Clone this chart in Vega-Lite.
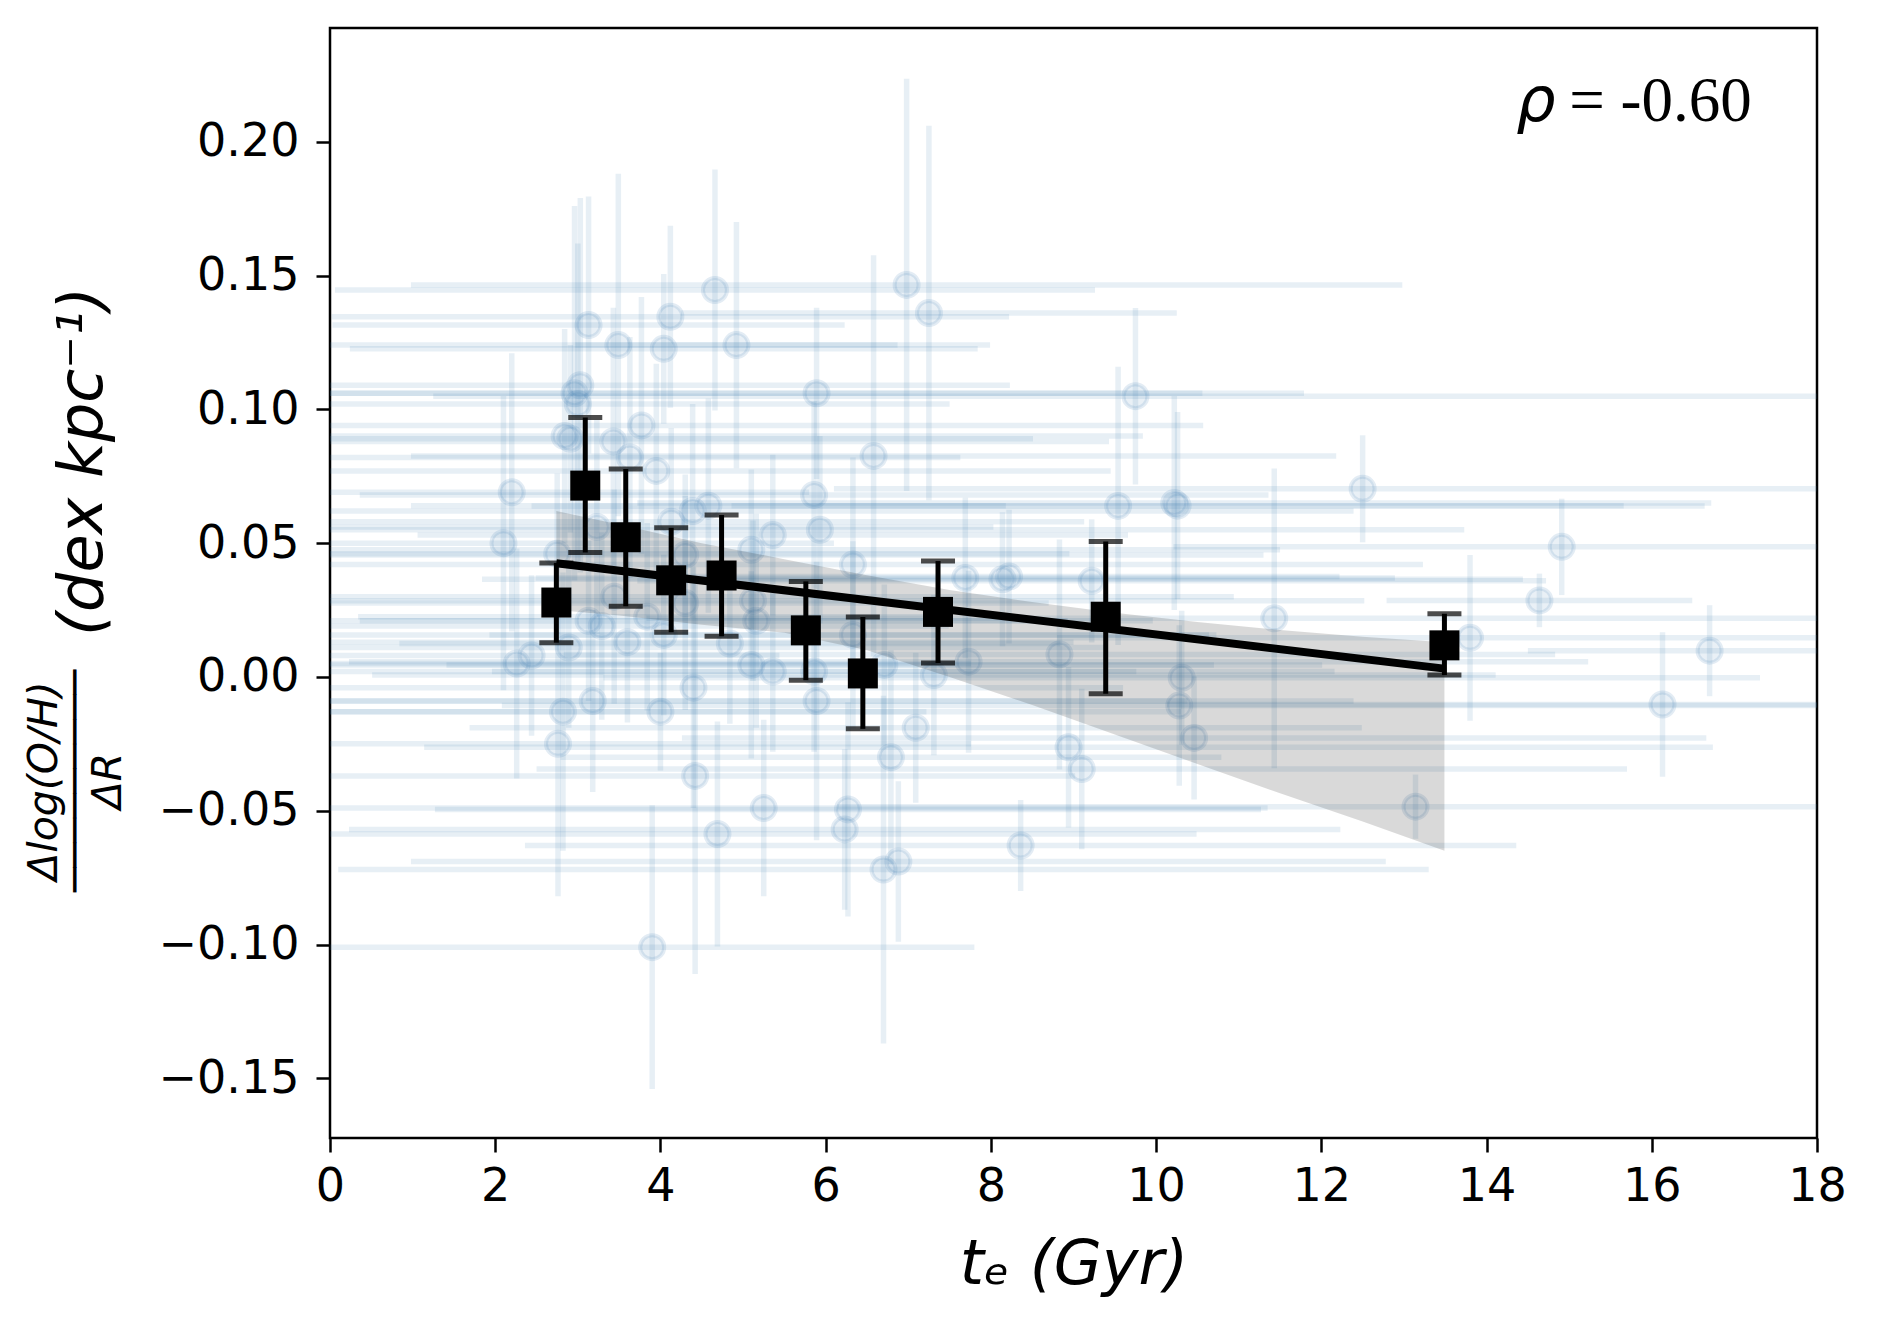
{
  "$schema": "https://vega.github.io/schema/vega-lite/v6.json",
  "width": 1487,
  "height": 1110,
  "autosize": "none",
  "padding": {"left": 330, "top": 28, "right": 61, "bottom": 188},
  "background": "white",
  "title": {
    "text": ["Δlog(O/H)", "─────────", "ΔR"],
    "orient": "left",
    "anchor": "middle",
    "frame": "group",
    "font": "DejaVu Sans",
    "fontSize": 41,
    "fontStyle": "italic",
    "fontWeight": "normal",
    "color": "black",
    "lineHeight": 32,
    "offset": -79,
    "dx": -198
  },
  "config": {
    "view": {"stroke": "black", "strokeWidth": 2.5},
    "axis": {
      "domain": false,
      "grid": false,
      "tickColor": "black",
      "tickWidth": 2.5,
      "tickSize": 14,
      "labelFont": "DejaVu Sans",
      "labelFontSize": 46,
      "labelColor": "black",
      "labelFlush": false,
      "labelOverlap": false,
      "titleFont": "DejaVu Sans",
      "titleFontSize": 62,
      "titleFontStyle": "italic",
      "titleFontWeight": "normal",
      "titleColor": "black"
    }
  },
  "datasets": {
    "stars": [
      {"x": 2.10, "y": 0.050, "xerr": 4.0, "yerr": 0.055},
      {"x": 2.20, "y": 0.069, "xerr": 3.6, "yerr": 0.052},
      {"x": 2.26, "y": 0.005, "xerr": 5.5, "yerr": 0.043},
      {"x": 2.44, "y": 0.008, "xerr": 3.0, "yerr": 0.030},
      {"x": 2.75, "y": 0.046, "xerr": 6.2, "yerr": 0.030},
      {"x": 2.76, "y": -0.025, "xerr": 5.0, "yerr": 0.057},
      {"x": 2.82, "y": -0.013, "xerr": 4.4, "yerr": 0.052},
      {"x": 2.84, "y": 0.090, "xerr": 7.0, "yerr": 0.040},
      {"x": 2.89, "y": 0.011, "xerr": 6.5, "yerr": 0.030},
      {"x": 2.91, "y": 0.089, "xerr": 5.6, "yerr": 0.035},
      {"x": 2.96, "y": 0.106, "xerr": 7.6, "yerr": 0.070},
      {"x": 3.00, "y": 0.102, "xerr": 4.5, "yerr": 0.060},
      {"x": 3.03, "y": 0.109, "xerr": 5.2, "yerr": 0.070},
      {"x": 3.13, "y": 0.1315, "xerr": 3.1, "yerr": 0.048},
      {"x": 3.13, "y": 0.021, "xerr": 5.8, "yerr": 0.030},
      {"x": 3.18, "y": -0.009, "xerr": 7.2, "yerr": 0.034},
      {"x": 3.23, "y": 0.056, "xerr": 4.8, "yerr": 0.040},
      {"x": 3.29, "y": 0.019, "xerr": 4.2, "yerr": 0.035},
      {"x": 3.43, "y": 0.088, "xerr": 6.0, "yerr": 0.050},
      {"x": 3.44, "y": 0.030, "xerr": 7.5, "yerr": 0.040},
      {"x": 3.49, "y": 0.124, "xerr": 4.5, "yerr": 0.064},
      {"x": 3.60, "y": 0.013, "xerr": 5.4, "yerr": 0.030},
      {"x": 3.63, "y": 0.082, "xerr": 4.0, "yerr": 0.045},
      {"x": 3.77, "y": 0.094, "xerr": 6.8, "yerr": 0.048},
      {"x": 3.84, "y": 0.0225, "xerr": 3.5, "yerr": 0.035},
      {"x": 3.90, "y": -0.101, "xerr": 3.9, "yerr": 0.053},
      {"x": 3.95, "y": 0.077, "xerr": 5.5, "yerr": 0.040},
      {"x": 4.00, "y": -0.013, "xerr": 6.3, "yerr": 0.022},
      {"x": 4.04, "y": 0.1226, "xerr": 3.8, "yerr": 0.028},
      {"x": 4.04, "y": 0.0157, "xerr": 6.6, "yerr": 0.030},
      {"x": 4.12, "y": 0.1346, "xerr": 4.1, "yerr": 0.034},
      {"x": 4.13, "y": 0.058, "xerr": 5.0, "yerr": 0.035},
      {"x": 4.30, "y": 0.0456, "xerr": 7.0, "yerr": 0.030},
      {"x": 4.30, "y": 0.0276, "xerr": 4.4, "yerr": 0.040},
      {"x": 4.40, "y": -0.004, "xerr": 5.2, "yerr": 0.045},
      {"x": 4.39, "y": 0.062, "xerr": 8.0, "yerr": 0.040},
      {"x": 4.42, "y": -0.037, "xerr": 4.6, "yerr": 0.074},
      {"x": 4.58, "y": 0.064, "xerr": 3.6, "yerr": 0.040},
      {"x": 4.66, "y": 0.1446, "xerr": 4.6, "yerr": 0.045},
      {"x": 4.69, "y": -0.0587, "xerr": 5.8, "yerr": 0.042},
      {"x": 4.84, "y": 0.0125, "xerr": 4.0, "yerr": 0.030},
      {"x": 4.92, "y": 0.124, "xerr": 1.95, "yerr": 0.046},
      {"x": 5.10, "y": 0.0475, "xerr": 6.4, "yerr": 0.030},
      {"x": 5.10, "y": 0.0045, "xerr": 5.6, "yerr": 0.035},
      {"x": 5.12, "y": 0.0285, "xerr": 7.4, "yerr": 0.030},
      {"x": 5.16, "y": 0.021, "xerr": 4.8, "yerr": 0.040},
      {"x": 5.25, "y": -0.049, "xerr": 6.1, "yerr": 0.033},
      {"x": 5.36, "y": 0.053, "xerr": 4.3, "yerr": 0.030},
      {"x": 5.36, "y": 0.002, "xerr": 6.8, "yerr": 0.030},
      {"x": 5.86, "y": 0.068, "xerr": 5.5, "yerr": 0.035},
      {"x": 5.86, "y": 0.002, "xerr": 3.9, "yerr": 0.030},
      {"x": 5.89, "y": 0.106, "xerr": 5.9, "yerr": 0.032},
      {"x": 5.89, "y": -0.009, "xerr": 6.5, "yerr": 0.052},
      {"x": 5.93, "y": 0.055, "xerr": 7.8, "yerr": 0.035},
      {"x": 6.23, "y": -0.057, "xerr": 6.0, "yerr": 0.030},
      {"x": 6.27, "y": -0.0495, "xerr": 5.0, "yerr": 0.040},
      {"x": 6.33, "y": 0.042, "xerr": 6.9, "yerr": 0.040},
      {"x": 6.33, "y": 0.0157, "xerr": 4.4, "yerr": 0.035},
      {"x": 6.58, "y": 0.0826, "xerr": 5.6, "yerr": 0.075},
      {"x": 6.70, "y": -0.072, "xerr": 6.6, "yerr": 0.065},
      {"x": 6.71, "y": 0.0045, "xerr": 5.3, "yerr": 0.030},
      {"x": 6.79, "y": -0.030, "xerr": 4.0, "yerr": 0.040},
      {"x": 6.88, "y": -0.069, "xerr": 5.9, "yerr": 0.030},
      {"x": 6.98, "y": 0.1465, "xerr": 6.0, "yerr": 0.077},
      {"x": 7.09, "y": -0.019, "xerr": 5.4, "yerr": 0.028},
      {"x": 7.25, "y": 0.136, "xerr": 3.0, "yerr": 0.070},
      {"x": 7.31, "y": 0.0007, "xerr": 6.8, "yerr": 0.030},
      {"x": 7.69, "y": 0.037, "xerr": 5.2, "yerr": 0.030},
      {"x": 7.73, "y": 0.0057, "xerr": 7.5, "yerr": 0.034},
      {"x": 8.14, "y": 0.0365, "xerr": 6.3, "yerr": 0.025},
      {"x": 8.22, "y": 0.0375, "xerr": 4.0, "yerr": 0.025},
      {"x": 8.36, "y": -0.063, "xerr": 6.0, "yerr": 0.017},
      {"x": 8.83, "y": 0.0084, "xerr": 6.0, "yerr": 0.043},
      {"x": 8.94, "y": -0.0263, "xerr": 7.8, "yerr": 0.030},
      {"x": 9.10, "y": -0.0344, "xerr": 6.6, "yerr": 0.030},
      {"x": 9.22, "y": 0.0359, "xerr": 5.5, "yerr": 0.023},
      {"x": 9.54, "y": 0.0639, "xerr": 7.1, "yerr": 0.052},
      {"x": 9.75, "y": 0.1049, "xerr": 8.5, "yerr": 0.033},
      {"x": 10.22, "y": 0.065, "xerr": 6.5, "yerr": 0.040},
      {"x": 10.26, "y": 0.064, "xerr": 5.4, "yerr": 0.035},
      {"x": 10.31, "y": -0.0003, "xerr": 7.0, "yerr": 0.025},
      {"x": 10.28, "y": -0.0107, "xerr": 8.2, "yerr": 0.030},
      {"x": 10.46, "y": -0.0228, "xerr": 6.2, "yerr": 0.023},
      {"x": 11.43, "y": 0.0219, "xerr": 7.6, "yerr": 0.056},
      {"x": 12.50, "y": 0.0703, "xerr": 6.4, "yerr": 0.020},
      {"x": 13.14, "y": -0.0485, "xerr": 7.0, "yerr": 0.012},
      {"x": 13.80, "y": 0.0146, "xerr": 5.0, "yerr": 0.031},
      {"x": 14.64, "y": 0.0286, "xerr": 1.85, "yerr": 0.010},
      {"x": 14.91, "y": 0.0486, "xerr": 4.7, "yerr": 0.018},
      {"x": 16.13, "y": -0.0103, "xerr": 6.0, "yerr": 0.027},
      {"x": 16.70, "y": 0.0098, "xerr": 2.2, "yerr": 0.017}
    ],
    "bins": [
      {"x": 2.74, "y": 0.0278, "lo": 0.0128, "hi": 0.0426},
      {"x": 3.09, "y": 0.0715, "lo": 0.0465, "hi": 0.0969},
      {"x": 3.58, "y": 0.0522, "lo": 0.0264, "hi": 0.0777},
      {"x": 4.13, "y": 0.0361, "lo": 0.0167, "hi": 0.0557},
      {"x": 4.74, "y": 0.0379, "lo": 0.0152, "hi": 0.0605},
      {"x": 5.76, "y": 0.0174, "lo": -0.0012, "hi": 0.0357},
      {"x": 6.45, "y": 0.0013, "lo": -0.0194, "hi": 0.0224},
      {"x": 7.36, "y": 0.0243, "lo": 0.0052, "hi": 0.0433},
      {"x": 9.39, "y": 0.0225, "lo": -0.0063, "hi": 0.0506},
      {"x": 13.49, "y": 0.0118, "lo": 0.0007, "hi": 0.0236}
    ],
    "band": [
      {"x": 2.74, "lo": 0.025, "hi": 0.062},
      {"x": 3.5, "lo": 0.023, "hi": 0.057},
      {"x": 4.5, "lo": 0.0195, "hi": 0.050},
      {"x": 5.5, "lo": 0.0165, "hi": 0.044},
      {"x": 6.5, "lo": 0.010, "hi": 0.038},
      {"x": 7.5, "lo": 0.000, "hi": 0.0325},
      {"x": 8.5, "lo": -0.0105, "hi": 0.028},
      {"x": 9.5, "lo": -0.0215, "hi": 0.024},
      {"x": 10.5, "lo": -0.0325, "hi": 0.0205},
      {"x": 11.5, "lo": -0.0435, "hi": 0.0175},
      {"x": 12.5, "lo": -0.054, "hi": 0.015},
      {"x": 13.49, "lo": -0.065, "hi": 0.013}
    ],
    "fit": [
      {"x": 2.74, "y": 0.0425},
      {"x": 13.49, "y": 0.0031}
    ]
  },
  "layer": [
    {
      "data": {"name": "stars"},
      "mark": {"type": "errorbar", "color": "#4682b4", "opacity": 0.13, "thickness": 5.5},
      "encoding": {
        "x": {"field": "x", "type": "quantitative", "title": "tₑ (Gyr)"},
        "xError": {"field": "xerr"},
        "y": {"field": "y", "type": "quantitative", "title": "(dex kpc⁻¹)"}
      }
    },
    {
      "data": {"name": "stars"},
      "mark": {"type": "errorbar", "color": "#4682b4", "opacity": 0.13, "thickness": 5.5},
      "encoding": {
        "x": {"field": "x", "type": "quantitative", "title": "tₑ (Gyr)"},
        "y": {"field": "y", "type": "quantitative", "title": "(dex kpc⁻¹)"},
        "yError": {"field": "yerr"}
      }
    },
    {
      "data": {"name": "stars"},
      "mark": {
        "type": "point",
        "filled": true,
        "shape": "circle",
        "size": 576,
        "fill": "#4682b4",
        "fillOpacity": 0.12,
        "stroke": "#4682b4",
        "strokeOpacity": 0.15,
        "strokeWidth": 4
      },
      "encoding": {
        "x": {
          "field": "x",
          "type": "quantitative",
          "title": "tₑ (Gyr)",
          "scale": {"domain": [0, 18], "nice": false, "zero": false, "clamp": true},
          "axis": {
            "values": [0, 2, 4, 6, 8, 10, 12, 14, 16, 18],
            "format": "d",
            "titleY": 145,
            "titleBaseline": "alphabetic",
            "labelPadding": 12
          }
        },
        "y": {
          "field": "y",
          "type": "quantitative",
          "title": "(dex kpc⁻¹)",
          "scale": {"domain": [-0.1723, 0.2425], "nice": false, "zero": false, "clamp": true},
          "axis": {
            "values": [-0.15, -0.1, -0.05, 0, 0.05, 0.1, 0.15, 0.2],
            "format": ".2f",
            "titleAngle": -90,
            "titleX": -229,
            "titleY": 433,
            "titleAlign": "center",
            "titleBaseline": "alphabetic",
            "labelPadding": 17
          }
        }
      }
    },
    {
      "data": {"name": "band"},
      "mark": {"type": "area", "color": "black", "opacity": 0.15},
      "encoding": {
        "x": {"field": "x", "type": "quantitative", "title": "tₑ (Gyr)"},
        "y": {"field": "lo", "type": "quantitative", "title": "(dex kpc⁻¹)"},
        "y2": {"field": "hi"}
      }
    },
    {
      "data": {"name": "fit"},
      "mark": {"type": "line", "color": "black", "strokeWidth": 8},
      "encoding": {
        "x": {"field": "x", "type": "quantitative", "title": "tₑ (Gyr)"},
        "y": {"field": "y", "type": "quantitative", "title": "(dex kpc⁻¹)"}
      }
    },
    {
      "data": {"name": "bins"},
      "mark": {"type": "errorbar", "color": "black", "ticks": true, "size": 34, "thickness": 5},
      "encoding": {
        "x": {"field": "x", "type": "quantitative", "title": "tₑ (Gyr)"},
        "y": {"field": "lo", "type": "quantitative", "title": "(dex kpc⁻¹)"},
        "y2": {"field": "hi"}
      }
    },
    {
      "data": {"name": "bins"},
      "mark": {"type": "point", "shape": "square", "filled": true, "size": 900, "color": "black", "opacity": 1},
      "encoding": {
        "x": {"field": "x", "type": "quantitative", "title": "tₑ (Gyr)"},
        "y": {"field": "y", "type": "quantitative", "title": "(dex kpc⁻¹)"}
      }
    },
    {
      "data": {"values": [{}]},
      "mark": {"type": "text", "font": "DejaVu Sans", "fontStyle": "italic", "fontSize": 62, "align": "left", "baseline": "alphabetic", "color": "black"},
      "encoding": {
        "x": {"datum": 14.36, "type": "quantitative", "title": "tₑ (Gyr)"},
        "y": {"datum": 0.2078, "type": "quantitative", "title": "(dex kpc⁻¹)"},
        "text": {"value": "ρ"}
      }
    },
    {
      "data": {"values": [{}]},
      "mark": {"type": "text", "font": "Liberation Serif", "fontSize": 63, "align": "left", "baseline": "alphabetic", "color": "black"},
      "encoding": {
        "x": {"datum": 15.0, "type": "quantitative", "title": "tₑ (Gyr)"},
        "y": {"datum": 0.2078, "type": "quantitative", "title": "(dex kpc⁻¹)"},
        "text": {"value": "= -0.60"}
      }
    }
  ]
}
